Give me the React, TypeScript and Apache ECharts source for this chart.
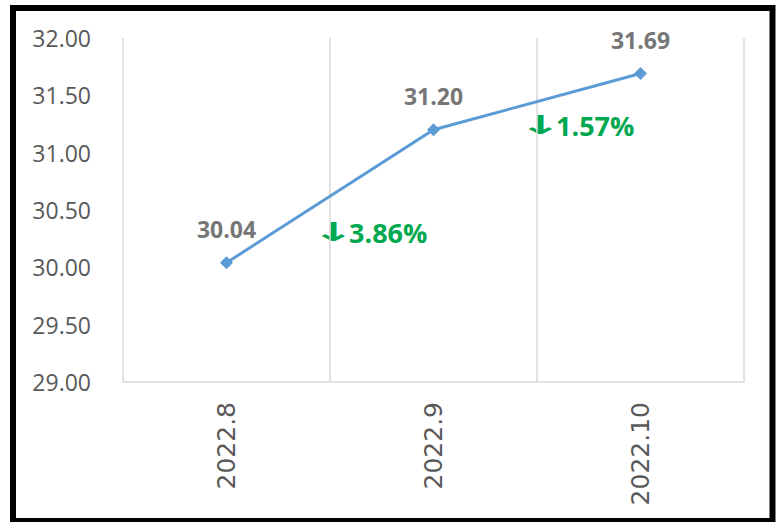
import React, { useEffect, useRef } from "react";
import * as echarts from "echarts";

const categories = ["2022.8", "2022.9", "2022.10"];
const values = [30.04, 31.2, 31.69];
const yTicks = { min: 29, max: 32, interval: 0.5 };
const annotations = ["3.86%", "1.57%"];
const arrow = "↓";

const GREEN = "#00a84f";

function annotation(x: number, y: number, text: string) {
  return {
    type: "group",
    x,
    y,
    children: [
      {
        type: "group",
        x: 0,
        y: 0,
        scaleX: 2,
        scaleY: 1,
        children: [
          {
            type: "text",
            x: 0,
            y: 0,
            style: {
              text: arrow,
              fill: GREEN,
              fontSize: 26,
              fontFamily: "DejaVu Sans",
              fontWeight: "bold",
              verticalAlign: "middle",
            },
          },
        ],
      },
      {
        type: "text",
        x: 37,
        y: 0,
        style: {
          text,
          fill: GREEN,
          fontSize: 27,
          fontFamily: "Open Sans",
          fontWeight: "bold",
          verticalAlign: "middle",
        },
      },
    ],
  };
}

export default function App() {
  const ref = useRef<HTMLDivElement>(null);
  useEffect(() => {
    document.body.style.margin = "0";
    const chart = echarts.init(ref.current!, null, { renderer: "svg" });
    chart.setOption({
      animation: false,
      backgroundColor: "#ffffff",
      grid: { left: 123, right: 32, top: 38, bottom: 140 },
      xAxis: {
        type: "category",
        data: categories,
        boundaryGap: true,
        axisLine: { show: true, lineStyle: { color: "#d9d9d9", width: 1.5 } },
        axisTick: { show: false },
        splitLine: { show: true, lineStyle: { color: "#d9d9d9", width: 1.5 } },
        axisLabel: {
          rotate: 90,
          margin: 20,
          color: "#595959",
          fontSize: 25,
          fontFamily: "DejaVu Sans",
        },
      },
      yAxis: {
        type: "value",
        min: yTicks.min,
        max: yTicks.max,
        interval: yTicks.interval,
        axisLine: { show: false },
        axisTick: { show: false },
        splitLine: { show: false },
        axisLabel: {
          margin: 32,
          color: "#595959",
          fontSize: 23,
          fontFamily: "Open Sans",
          formatter: (v: number) => v.toFixed(2),
        },
      },
      series: [
        {
          type: "line",
          data: values,
          symbol: "diamond",
          symbolSize: 13,
          lineStyle: { color: "#5b9bd5", width: 3 },
          itemStyle: { color: "#5b9bd5" },
          label: {
            show: true,
            position: "top",
            distance: 16,
            color: "#767676",
            fontSize: 23,
            fontWeight: "bold",
            fontFamily: "Open Sans",
            formatter: (p: any) => p.value.toFixed(2),
          },
        },
      ],
      graphic: [
        {
          type: "rect",
          shape: { x: 13, y: 8, width: 759.5, height: 513 },
          style: { fill: "none", stroke: "#000000", lineWidth: 6 },
          z: 100,
        },
        annotation(312, 232, annotations[0]),
        annotation(519, 125, annotations[1]),
      ],
    });
    return () => chart.dispose();
  }, []);
  return <div ref={ref} style={{ width: 776, height: 522 }} />;
}
